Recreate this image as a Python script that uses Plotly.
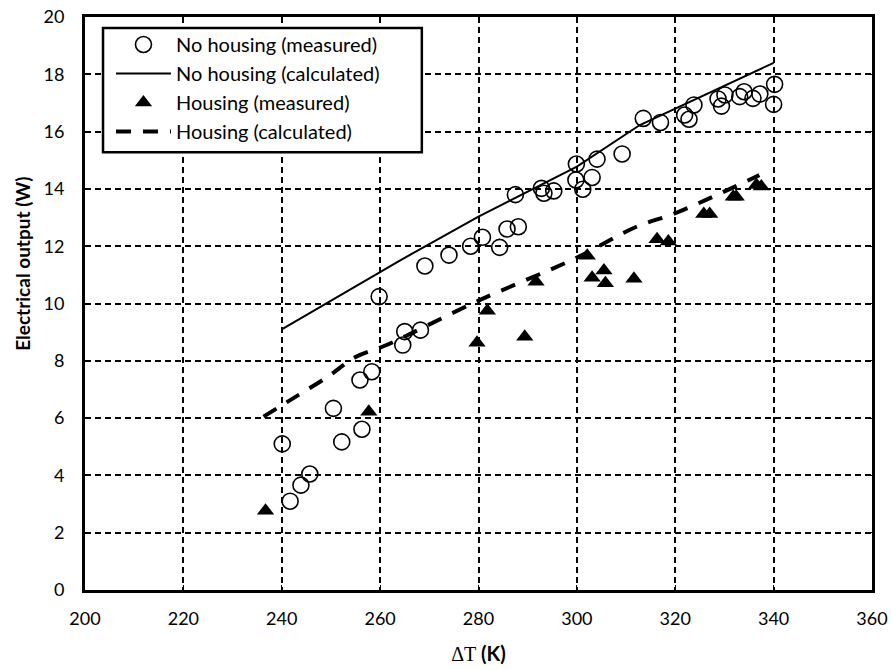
import plotly.graph_objects as go

# No housing (measured)
nh_T = [240.1, 241.7, 243.9, 245.7, 250.5, 252.2, 255.9, 256.3, 258.3, 259.8,
        264.6, 265.0, 268.2, 269.1, 274.0, 278.4, 280.8, 284.3, 285.8, 287.5,
        288.1, 292.8, 293.3, 295.3, 299.8, 299.9, 301.2, 303.1, 304.1, 309.2,
        313.5, 317.0, 321.9, 322.8, 323.8, 328.7, 329.4, 330.1, 333.1, 334.0,
        335.8, 337.2, 340.0, 340.2]
nh_P = [5.1, 3.1, 3.66, 4.05, 6.34, 5.17, 7.33, 5.61, 7.62, 10.24,
        8.55, 9.02, 9.07, 11.31, 11.69, 12.0, 12.31, 11.96, 12.6, 13.8,
        12.68, 14.02, 13.85, 13.93, 14.31, 14.87, 13.99, 14.4, 15.04, 15.22,
        16.46, 16.32, 16.58, 16.43, 16.93, 17.14, 16.89, 17.28, 17.22, 17.39,
        17.16, 17.31, 16.95, 17.65]

# No housing (calculated)
nhc_T = [240.0, 264.0, 280.0, 300.0, 312.8, 340.0]
nhc_P = [9.1, 11.5, 13.03, 14.78, 16.23, 18.4]

# Housing (measured)
h_T = [236.7, 257.7, 279.7, 281.8, 289.4, 291.7, 302.1, 303.1, 305.5, 305.8,
       311.6, 316.3, 318.6, 325.8, 327.0, 331.8, 332.4, 336.5, 337.5]
h_P = [2.77, 6.22, 8.63, 9.75, 8.84, 10.76, 11.67, 10.9, 11.15, 10.71,
       10.86, 12.24, 12.16, 13.12, 13.12, 13.73, 13.73, 14.14, 14.08]

# Housing (calculated)
hc_T = [236.3, 242.3, 249.4, 254.9, 261.3, 280.0, 300.0, 312.1, 320.0, 337.1]
hc_P = [6.05, 6.69, 7.45, 8.12, 8.55, 10.1, 11.6, 12.68, 13.15, 14.48]

x_ticks = [200, 220, 240, 260, 280, 300, 320, 340, 360]
y_ticks = [0, 2, 4, 6, 8, 10, 12, 14, 16, 18, 20]

FONT = "Lato"

fig = go.Figure()
fig.add_trace(go.Scatter(
    x=nh_T, y=nh_P, mode="markers", name="No housing (measured)",
    marker=dict(symbol="circle-open", size=16, color="black", line=dict(width=1.6, color="black"))))
fig.add_trace(go.Scatter(
    x=nhc_T, y=nhc_P, mode="lines", name="No housing (calculated)",
    line=dict(color="black", width=2)))
fig.add_trace(go.Scatter(
    x=h_T, y=h_P, mode="markers", name="Housing (measured)",
    marker=dict(symbol="triangle-up", size=15, color="black")))
fig.add_trace(go.Scatter(
    x=hc_T, y=hc_P, mode="lines", name="Housing (calculated)",
    line=dict(color="black", width=4, dash="15px,12px", shape="spline")))

axis_common = dict(
    showline=True, linecolor="black", linewidth=3, mirror="ticks",
    ticks="inside", ticklen=5, tickcolor="black", tickwidth=1,
    showgrid=True, gridcolor="black", gridwidth=1.5, griddash="6px,4px",
    zeroline=False, automargin=False,
    tickfont=dict(family=FONT, size=18, color="black"),
)

fig.update_layout(
    width=891, height=670,
    margin=dict(l=85, r=19, t=17, b=80),
    paper_bgcolor="white", plot_bgcolor="white",
    font=dict(family=FONT, color="black"),
    showlegend=True,
    legend=dict(
        x=0.033, y=0.986, xanchor="left", yanchor="top",
        bgcolor="rgba(0,0,0,0)", borderwidth=0,
        font=dict(family=FONT, size=20, color="black"),
        itemwidth=55,
    ),
    xaxis=dict(range=[200, 360], tickvals=x_ticks, ticklabelstandoff=10,
               title=dict(text="<span style=\"font-family:'Liberation Serif'\">ΔT</span><b> (K)</b>",
                          font=dict(family=FONT, size=20), standoff=20),
               **axis_common),
    yaxis=dict(range=[0, 20], tickvals=y_ticks, ticklabelstandoff=14,
               **axis_common),
    shapes=[dict(type="rect", xref="paper", yref="paper",
                 x0=0.0229, x1=0.428, y0=0.764, y1=0.981,
                 line=dict(color="black", width=2.5), fillcolor="white", layer="above")],
    annotations=[dict(text="<b>Electrical output (W)</b>", xref="paper", yref="paper",
                      x=-0.079, y=0.569, xanchor="center", yanchor="middle",
                      textangle=-90, showarrow=False,
                      font=dict(family=FONT, size=19, color="black"))],
)

fig.write_html("out.html")
